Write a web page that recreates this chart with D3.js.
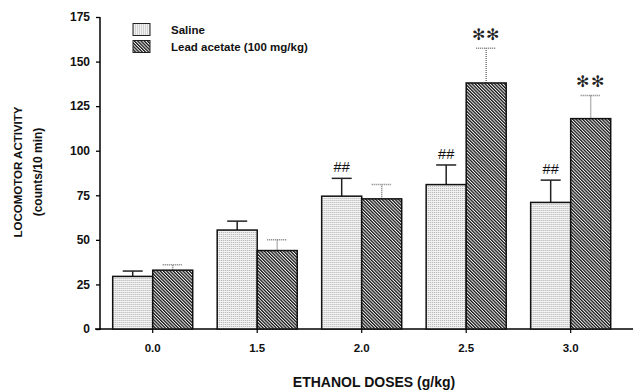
<!DOCTYPE html>
<html>
<head>
<meta charset="utf-8">
<script src="https://cdn.jsdelivr.net/npm/d3@7"></script>
<style>
  body { margin: 0; background: #fff; }
  text { font-family: "Liberation Sans", Arial, sans-serif; }
</style>
</head>
<body>
<div class="canvas"></div>
<script>
// data
const doses = ["0.0", "1.5", "2.0", "2.5", "3.0"];
const groups = ["Saline", "Lead acetate (100 mg/kg)"];
const saline = [29.5, 55.5, 74.5, 81, 71];
const salineErr = [3, 5, 10, 11, 12.5];
const lead = [33, 44, 73, 138, 118];
const leadErr = [3, 6, 8, 19.5, 13];
const hashMarks = ["", "", "##", "##", "##"];   // vs saline 0.0
const starMarks = ["", "", "", "**", "**"];     // vs saline same dose
const yTicks = [0, 25, 50, 75, 100, 125, 150, 175];

const width = 633, height = 390;

const svg = d3.select(".canvas").append("svg")
  .attr("width", width)
  .attr("height", height);

// fill patterns
const defs = svg.append("defs");
const dots = defs.append("pattern")
  .attr("id", "dots")
  .attr("width", 2).attr("height", 2)
  .attr("patternUnits", "userSpaceOnUse");
dots.append("rect").attr("width", 2).attr("height", 2).attr("fill", "#f2f2f2");
dots.append("rect").attr("width", 1).attr("height", 1).attr("fill", "#b0b0b0");

const hatch = defs.append("pattern")
  .attr("id", "hatch")
  .attr("width", 2.3).attr("height", 4)
  .attr("patternUnits", "userSpaceOnUse")
  .attr("patternTransform", "rotate(-45)");
hatch.append("rect").attr("width", 2.3).attr("height", 4).attr("fill", "#f4f4f4");
hatch.append("rect")
  .attr("x", 0).attr("y", 0).attr("width", 1.3).attr("height", 4)
  .attr("fill", "#151515");

const fills = ["url(#dots)", "url(#hatch)"];

// scales
const x = d3.scaleBand()
  .domain(doses)
  .range([100, 623.4])
  .paddingInner(0.234)
  .paddingOuter(0.1215);

const xSub = d3.scaleBand()
  .domain([0, 1])
  .range([0, x.bandwidth()]);

const y = d3.scaleLinear()
  .domain([0, 175])
  .range([329, 17]);

// axes
const yAxis = svg.append("g")
  .attr("transform", "translate(100,0)")
  .call(d3.axisLeft(y).tickValues(yTicks).tickSize(4).tickPadding(6).tickSizeOuter(0));
yAxis.select(".domain").attr("stroke", "#000").attr("stroke-width", 1.5)
  .attr("d", `M0,${y(0) + 1}V${y(175)}`);
yAxis.selectAll(".tick line").attr("stroke-width", 1.3);
yAxis.selectAll("text")
  .attr("font-size", 12).attr("font-weight", "bold")
  .attr("font-family", "Liberation Sans, Arial, sans-serif").attr("fill", "#111");

const xAxis = svg.append("g")
  .attr("transform", `translate(0,${y(0)})`)
  .call(d3.axisBottom(x).tickSize(4).tickPadding(11).tickSizeOuter(0));
xAxis.select(".domain").attr("stroke", "#000").attr("stroke-width", 1.5)
  .attr("d", "M95,0H633");
xAxis.selectAll(".tick line").attr("stroke-width", 1.2);
xAxis.selectAll("text")
  .attr("font-size", 11.5).attr("font-weight", "bold")
  .attr("font-family", "Liberation Sans, Arial, sans-serif").attr("fill", "#111");

// bars + error bars
const rows = doses.map((d, i) => ({
  dose: d,
  vals: [
    { g: 0, v: saline[i], e: salineErr[i], mark: hashMarks[i] },
    { g: 1, v: lead[i], e: leadErr[i], mark: starMarks[i] }
  ]
}));

const cat = svg.append("g").selectAll("g")
  .data(rows)
  .join("g")
  .attr("transform", d => `translate(${x(d.dose)},0)`);

const bar = cat.selectAll("g")
  .data(d => d.vals)
  .join("g");

// error bar stems and caps
bar.append("line")
  .attr("x1", d => xSub(d.g) + xSub.bandwidth() / 2)
  .attr("x2", d => xSub(d.g) + xSub.bandwidth() / 2)
  .attr("y1", d => y(d.v))
  .attr("y2", d => y(d.v + d.e))
  .attr("stroke", d => d.g ? "#777" : "#222")
  .attr("stroke-dasharray", d => d.g ? "1,1" : null)
  .attr("stroke-width", 1.5);
bar.append("line")
  .attr("x1", d => xSub(d.g) + xSub.bandwidth() / 4)
  .attr("x2", d => xSub(d.g) + xSub.bandwidth() * 3 / 4)
  .attr("y1", d => y(d.v + d.e))
  .attr("y2", d => y(d.v + d.e))
  .attr("stroke", d => d.g ? "#777" : "#222")
  .attr("stroke-dasharray", d => d.g ? "1,1" : null)
  .attr("stroke-width", 1.5);

bar.append("rect")
  .attr("x", d => xSub(d.g))
  .attr("y", d => y(d.v))
  .attr("width", xSub.bandwidth())
  .attr("height", d => y(0) - y(d.v))
  .attr("fill", d => fills[d.g])
  .attr("stroke", "#111")
  .attr("stroke-width", 1.5);

// significance marks
bar.filter(d => d.mark === "##").append("text")
  .attr("x", d => xSub(d.g) + xSub.bandwidth() / 2)
  .attr("y", d => y(d.v + d.e) - 6)
  .attr("text-anchor", "middle")
  .attr("font-family", "Liberation Serif, Times New Roman, serif")
  .attr("font-size", 14.5)
  .attr("fill", "#111")
  .text(d => d.mark);

bar.filter(d => d.mark === "**").append("text")
  .attr("x", d => xSub(d.g) + xSub.bandwidth() / 2)
  .attr("y", d => y(d.v + d.e) - 8)
  .attr("text-anchor", "middle")
  .attr("font-family", "DejaVu Sans, sans-serif")
  .attr("font-size", 16)
  .attr("letter-spacing", 1.5)
  .attr("fill", "#222")
  .text("\u273B\u273B");

// legend
const legend = svg.append("g").selectAll("g")
  .data(groups)
  .join("g")
  .attr("transform", (d, i) => `translate(133,${23.5 + i * 17})`);
legend.append("rect")
  .attr("width", 17).attr("height", 12)
  .attr("fill", (d, i) => fills[i])
  .attr("stroke", "#222").attr("stroke-width", 1);
legend.append("text")
  .attr("x", 38).attr("y", 10.5)
  .attr("font-size", 11.5).attr("font-weight", "bold").attr("fill", "#111")
  .text(d => d);

// axis titles
svg.append("text")
  .attr("transform", "translate(22,172) rotate(-90)")
  .attr("text-anchor", "middle")
  .attr("font-size", 11.5).attr("font-weight", "bold").attr("fill", "#111")
  .text("LOCOMOTOR ACTIVITY");
svg.append("text")
  .attr("transform", "translate(42,172) rotate(-90)")
  .attr("text-anchor", "middle")
  .attr("font-size", 12).attr("font-weight", "bold").attr("fill", "#111")
  .text("(counts/10 min)");
svg.append("text")
  .attr("x", 374).attr("y", 387)
  .attr("text-anchor", "middle")
  .attr("font-size", 14).attr("font-weight", "bold").attr("fill", "#111")
  .text("ETHANOL DOSES (g/kg)");
</script>
</body>
</html>
